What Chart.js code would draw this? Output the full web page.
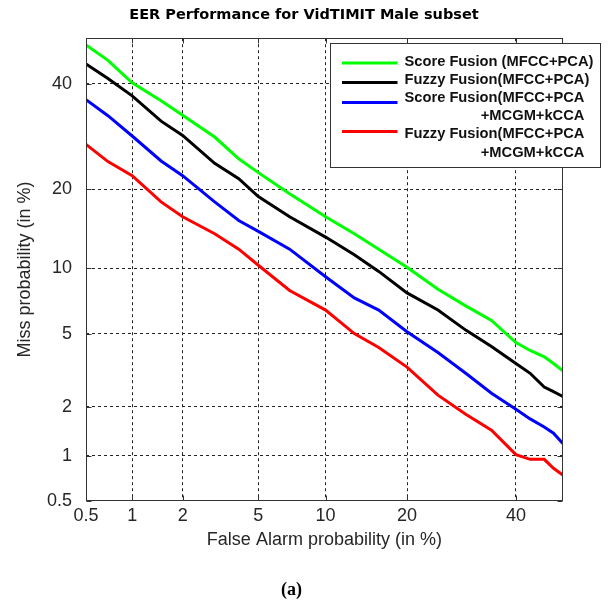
<!DOCTYPE html>
<html>
<head>
<meta charset="utf-8">
<script src="https://cdn.jsdelivr.net/npm/chart.js@4/dist/chart.umd.min.js"></script>
<style>
  html, body { margin: 0; padding: 0; background: #fff; }
</style>
</head>
<body>
<canvas id="detChart" width="616" height="603"></canvas>
<script>
// false alarm probabilities (%) at which the curves were read
const falseAlarm = [0.5, 0.7, 1, 1.5, 2, 3, 4, 5, 7, 10, 13, 16, 20, 25, 30, 35, 40, 43, 46, 48, 50];

// miss probabilities (%) for each system
const scoreFusion = [48.5, 45.1, 40.2, 36.4, 33.4, 29.1, 25.1, 22.7, 19.3, 16.0, 13.8, 12.0, 10.1, 8.1, 6.8, 5.8, 4.5, 4.1, 3.8, 3.5, 3.2];
const fuzzyFusion = [44.3, 41.1, 37.4, 32.2, 29.4, 24.3, 21.7, 18.9, 16.0, 13.4, 11.4, 9.7, 7.8, 6.5, 5.2, 4.3, 3.5, 3.1, 2.6, 2.45, 2.3];
const scoreFusionCca = [36.6, 33.3, 29.3, 24.7, 22.2, 18.1, 15.5, 14.1, 12.0, 9.2, 7.4, 6.5, 5.1, 4.0, 3.1, 2.4, 1.94, 1.7, 1.52, 1.39, 1.2];
const fuzzyFusionCca = [27.7, 24.6, 22.2, 18.1, 16.0, 13.8, 12.0, 10.3, 8.0, 6.5, 5.0, 4.25, 3.35, 2.34, 1.81, 1.45, 1.02, 0.95, 0.95, 0.83, 0.75];

const seriesLabels = [
    "Score Fusion (MFCC+PCA)",
    "Fuzzy Fusion(MFCC+PCA)",
    "Score Fusion(MFCC+PCA\n+MCGM+kCCA",
    "Fuzzy Fusion(MFCC+PCA\n+MCGM+kCCA"
];
const seriesColors = ["#00ff00", "#000000", "#0000ff", "#ff0000"];

const tickValues = [0.5, 1, 2, 5, 10, 20, 40];
const tickLabels = ["0.5", "1", "2", "5", "10", "20", "40"];
const axisMin = 0.5;   // %
const axisMax = 50;    // %

const chartTitle = "EER Performance for VidTIMIT Male subset";

// inverse of the normal CDF (Acklam), used for the DET (normal deviate) axes
function probit(p) {
    const a = [-3.969683028665376e+01, 2.209460984245205e+02, -2.759285104469687e+02, 1.383577518672690e+02, -3.066479806614716e+01, 2.506628277459239e+00];
    const b = [-5.447609879822406e+01, 1.615858368580409e+02, -1.556989798598866e+02, 6.680131188771972e+01, -1.328068155288572e+01];
    const c = [-7.784894002430293e-03, -3.223964580411365e-01, -2.400758277161838e+00, -2.549732539343734e+00, 4.374664141464968e+00, 2.938163982698783e+00];
    const d = [7.784695709041462e-03, 3.224671290700398e-01, 2.445134137142996e+00, 3.754408661907416e+00];
    const pLow = 0.02425;
    if (p < pLow) {
        const q = Math.sqrt(-2 * Math.log(p));
        return (((((c[0]*q + c[1])*q + c[2])*q + c[3])*q + c[4])*q + c[5]) /
               ((((d[0]*q + d[1])*q + d[2])*q + d[3])*q + 1);
    }
    if (p <= 1 - pLow) {
        const q = p - 0.5, r = q * q;
        return (((((a[0]*r + a[1])*r + a[2])*r + a[3])*r + a[4])*r + a[5]) * q /
               (((((b[0]*r + b[1])*r + b[2])*r + b[3])*r + b[4])*r + 1);
    }
    const q = Math.sqrt(-2 * Math.log(1 - p));
    return -(((((c[0]*q + c[1])*q + c[2])*q + c[3])*q + c[4])*q + c[5]) /
            ((((d[0]*q + d[1])*q + d[2])*q + d[3])*q + 1);
}
const dev = pct => probit(pct / 100);

const allSeries = [scoreFusion, fuzzyFusion, scoreFusionCca, fuzzyFusionCca];

const datasets = allSeries.map((vals, i) => ({
    label: seriesLabels[i],
    data: falseAlarm.map((fa, j) => ({ x: dev(fa), y: dev(vals[j]) })),
    borderColor: seriesColors[i],
    backgroundColor: seriesColors[i],
    borderWidth: 3,
    pointRadius: 0,
    tension: 0,
    fill: false
}));

const tickFont = { family: "'Liberation Sans', Arial, sans-serif", size: 18 };
const textColor = "#262626";

function setTicks(scale) {
    scale.ticks = tickValues.map(v => ({ value: dev(v) }));
}

// box around the axes + small inward tick marks (MATLAB style)
const axesFrame = {
    id: "axesFrame",
    afterDatasetsDraw(chart) {
        const { ctx, chartArea: ca, scales } = chart;
        const l = Math.round(ca.left) + 0.5, r = Math.round(ca.right) - 0.5;
        const t = Math.round(ca.top) + 0.5, b = Math.round(ca.bottom) - 0.5;
        ctx.save();
        ctx.strokeStyle = "#333";
        ctx.lineWidth = 1;
        ctx.strokeRect(l, t, r - l, b - t);
        ctx.beginPath();
        scales.x.ticks.forEach(tk => {
            const px = Math.round(scales.x.getPixelForValue(tk.value)) + 0.5;
            ctx.moveTo(px, b); ctx.lineTo(px, b - 5);
            ctx.moveTo(px, t); ctx.lineTo(px, t + 5);
        });
        scales.y.ticks.forEach(tk => {
            const py = Math.round(scales.y.getPixelForValue(tk.value)) + 0.5;
            ctx.moveTo(l, py); ctx.lineTo(l + 5, py);
            ctx.moveTo(r, py); ctx.lineTo(r - 5, py);
        });
        ctx.stroke();
        ctx.restore();
    }
};

// title above the axes and boxed legend with two-line labels
const captions = {
    id: "captions",
    afterDraw(chart) {
        const { ctx, chartArea: ca } = chart;
        ctx.save();
        ctx.fillStyle = "#000";
        ctx.font = "bold 14.5px 'DejaVu Sans', Verdana, sans-serif";
        ctx.textAlign = "center";
        ctx.textBaseline = "middle";
        ctx.fillText(chartTitle, ca.left + 218, 15);

        const bx = Math.round(ca.left + 244) + 0.5, by = Math.round(ca.top + 4.5) + 0.5;
        const bw = 270, bh = 124;
        const lineY = [19.6, 39, 59, 88];
        const textY = [[18], [36.6], [54, 72.3], [90.6, 109]];
        ctx.fillStyle = "#fff";
        ctx.fillRect(bx, by, bw, bh);
        ctx.strokeStyle = "#333";
        ctx.lineWidth = 1;
        ctx.strokeRect(bx, by, bw, bh);
        ctx.font = "bold 14.7px 'Liberation Sans', Arial, sans-serif";
        chart.data.datasets.forEach((ds, i) => {
            ctx.strokeStyle = ds.borderColor;
            ctx.lineWidth = 3;
            ctx.beginPath();
            ctx.moveTo(bx + 11.5, by + lineY[i]);
            ctx.lineTo(bx + 67, by + lineY[i]);
            ctx.stroke();
            const lines = ds.label.split("\n");
            const w0 = ctx.measureText(lines[0]).width;
            ctx.fillStyle = "#111";
            lines.forEach((txt, j) => {
                if (j === 0) {
                    ctx.textAlign = "left";
                    ctx.fillText(txt, bx + 74, by + textY[i][j]);
                } else {
                    ctx.textAlign = "right";
                    ctx.fillText(txt, bx + 74 + w0, by + textY[i][j]);
                }
            });
        });
        ctx.restore();
    }
};

const ctx = document.getElementById("detChart").getContext("2d");

new Chart(ctx, {
    type: "line",
    data: { datasets: datasets },
    options: {
        responsive: false,
        animation: false,
        devicePixelRatio: 1,
        layout: { padding: { left: 20, right: 53.2, top: 38.2, bottom: 0 } },
        plugins: {
            legend: { display: false },
            tooltip: { enabled: false },
            title: { display: false },
            subtitle: {
                display: true,
                position: "bottom",
                text: "(a)",
                color: "#000",
                font: { family: "'Liberation Serif', 'Times New Roman', serif", size: 18, weight: "bold" },
                padding: { top: 0, bottom: 2.2 }
            }
        },
        scales: {
            x: {
                type: "linear",
                min: dev(axisMin),
                max: dev(axisMax),
                afterFit: s => { s.height = 78.5; },
                afterBuildTicks: setTicks,
                ticks: {
                    autoSkip: false,
                    maxRotation: 0,
                    padding: 5,
                    font: tickFont,
                    color: textColor,
                    callback: (v, i) => tickLabels[i]
                },
                grid: { color: "#222", lineWidth: 1, drawTicks: false },
                border: { display: false, dash: [3, 3] },
                title: {
                    display: true,
                    text: "False Alarm probability (in %)",
                    font: tickFont,
                    color: textColor,
                    padding: { top: 0, bottom: 28.4 }
                }
            },
            y: {
                type: "linear",
                min: dev(axisMin),
                max: dev(axisMax),
                afterFit: s => { s.width = 66; },
                afterBuildTicks: setTicks,
                ticks: {
                    autoSkip: false,
                    padding: 14,
                    font: tickFont,
                    color: textColor,
                    callback: (v, i) => tickLabels[i]
                },
                grid: { color: "#222", lineWidth: 1, drawTicks: false },
                border: { display: false, dash: [3, 3] },
                title: {
                    display: true,
                    text: "Miss probability (in %)",
                    font: tickFont,
                    color: textColor,
                    padding: { top: -5.8, bottom: 0 }
                }
            }
        }
    },
    plugins: [axesFrame, captions]
});
</script>
</body>
</html>
